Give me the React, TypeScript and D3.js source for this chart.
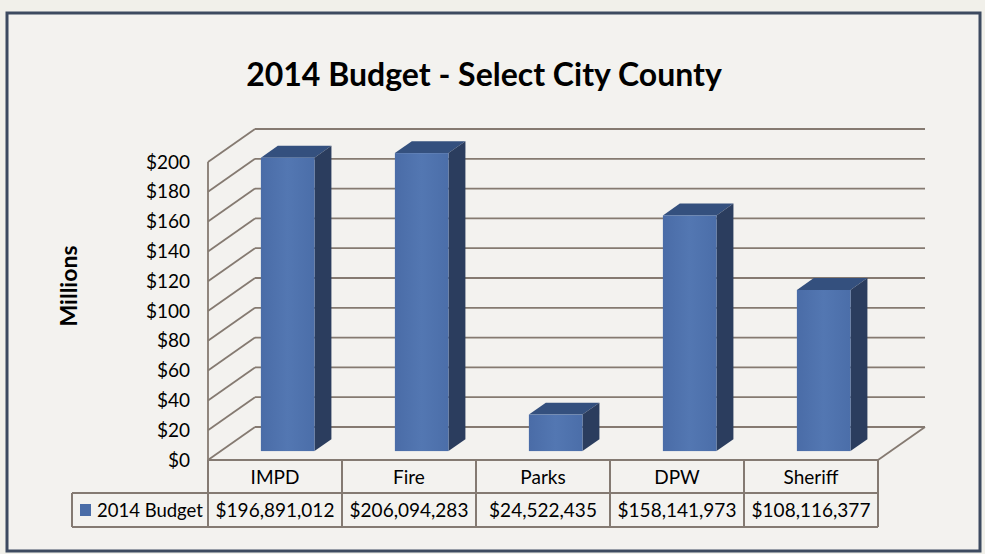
import React from "react";
import * as d3 from "d3";

const categories = ["IMPD", "Fire", "Parks", "DPW", "Sheriff"];
const budget2014 = [196891012, 206094283, 24522435, 158141973, 108116377];
const yTicks = [0, 20, 40, 60, 80, 100, 120, 140, 160, 180, 200];
const seriesName = "2014 Budget";
const chartTitle = "2014 Budget - Select City County";
const axisTitle = "Millions";

const W = 985;
const H = 554;
const DX = 47;
const DY = -33;
const Z0 = 0.27;
const Z1 = 0.63;
const FONT = "Lato, 'Open Sans', sans-serif";
const GRID = "#857a71";
const BORDER = "#847a72";

export default function App() {
  const x = d3.scaleBand<string>().domain(categories).range([208, 878]).padding(0);
  const y = d3.scaleLinear().domain([0, 200]).range([460, 162]).clamp(true);
  const bw = x.bandwidth();
  const barW = bw * 0.4;
  const fmt = d3.format("$,");
  const left = 208;
  const right = 878;
  const rowTop = y(0);
  const rowMid = 493;
  const rowBot = 527;

  return (
    <svg
      width={W}
      height={H}
      style={{ position: "absolute", left: 0, top: 0, display: "block" }}
      xmlns="http://www.w3.org/2000/svg"
    >
      <defs>
        <linearGradient id="front" x1="0" x2="1" y1="0" y2="0">
          <stop offset="0" stopColor="#4a6ca7" />
          <stop offset="0.5" stopColor="#5377b2" />
          <stop offset="1" stopColor="#4b6ea9" />
        </linearGradient>
      </defs>
      <rect x={0} y={0} width={W} height={H} fill="#f1f0ea" />
      <rect x={7} y={13} width={973} height={538} fill="#f3f2ef" stroke="#3d4a60" strokeWidth={3} />

      <text x={484} y={86} textAnchor="middle" fontFamily={FONT} fontWeight="bold" fontSize={32} fill="#000">
        {chartTitle}
      </text>

      <text
        transform={`translate(77,286) rotate(-90)`}
        textAnchor="middle"
        fontFamily={FONT}
        fontWeight="bold"
        fontSize={23}
        fill="#000"
      >
        {axisTitle}
      </text>

      {/* back wall gridlines */}
      {yTicks.map((t) => (
        <line key={"b" + t} x1={left + DX} x2={right + DX} y1={y(t) + DY} y2={y(t) + DY} stroke={GRID} strokeWidth={1.8} />
      ))}
      {/* side wall diagonals */}
      {yTicks.map((t) => (
        <line key={"s" + t} x1={left} x2={left + DX} y1={y(t)} y2={y(t) + DY} stroke={GRID} strokeWidth={1.8} />
      ))}
      {/* front axis line */}
      <line x1={left} x2={left} y1={y(200)} y2={y(0)} stroke={GRID} strokeWidth={1.8} />
      {/* floor right edge */}
      <line x1={right} x2={right + DX} y1={y(0)} y2={y(0) + DY} stroke={GRID} strokeWidth={1.8} />

      {/* tick labels */}
      {yTicks.map((t) => (
        <text key={"t" + t} x={190} y={y(t) + 6.5} textAnchor="end" fontFamily={FONT} fontSize={19} fill="#000">
          {d3.format("$")(t)}
        </text>
      ))}

      {/* bars */}
      {categories.map((c, i) => {
        const v = budget2014[i] / 1e6;
        const bx = (x(c) as number) + (bw - barW) / 2 + Z0 * DX;
        const bt = y(v) + Z0 * DY;
        const bb = y(0) + Z0 * DY;
        const br = bx + barW;
        const ddx = (Z1 - Z0) * DX;
        const ddy = (Z1 - Z0) * DY;
        return (
          <g key={c}>
            <polygon
              points={`${bx},${bt} ${br},${bt} ${br + ddx},${bt + ddy} ${bx + ddx},${bt + ddy}`}
              fill="#34507e"
            />
            <polygon
              points={`${br},${bt} ${br + ddx},${bt + ddy} ${br + ddx},${bb + ddy} ${br},${bb}`}
              fill="#2b3d5e"
            />
            <rect x={bx} y={bt} width={barW} height={bb - bt} fill="url(#front)" />
          </g>
        );
      })}

      {/* data table */}
      <line x1={left} x2={right} y1={rowTop} y2={rowTop} stroke={BORDER} strokeWidth={2} />
      <line x1={72} x2={right} y1={rowMid} y2={rowMid} stroke={BORDER} strokeWidth={2} />
      <line x1={72} x2={right} y1={rowBot} y2={rowBot} stroke={BORDER} strokeWidth={2} />
      <line x1={72} x2={72} y1={rowMid} y2={rowBot} stroke={BORDER} strokeWidth={2} />
      {categories.map((c) => (
        <line key={"v" + c} x1={x(c)} x2={x(c)} y1={rowTop} y2={rowBot} stroke={BORDER} strokeWidth={2} />
      ))}
      <line x1={right} x2={right} y1={rowTop} y2={rowBot} stroke={BORDER} strokeWidth={2} />

      {categories.map((c, i) => (
        <g key={"cell" + c}>
          <text x={(x(c) as number) + bw / 2} y={484} textAnchor="middle" fontFamily={FONT} fontSize={19} fill="#000">
            {c}
          </text>
          <text x={(x(c) as number) + bw / 2} y={517} textAnchor="middle" fontFamily={FONT} fontSize={19} fill="#000">
            {fmt(budget2014[i])}
          </text>
        </g>
      ))}

      <rect x={80} y={504} width={11} height={12} fill="#4a6ca7" />
      <text x={97} y={517} fontFamily={FONT} fontSize={18.5} fill="#000">
        {seriesName}
      </text>
    </svg>
  );
}
